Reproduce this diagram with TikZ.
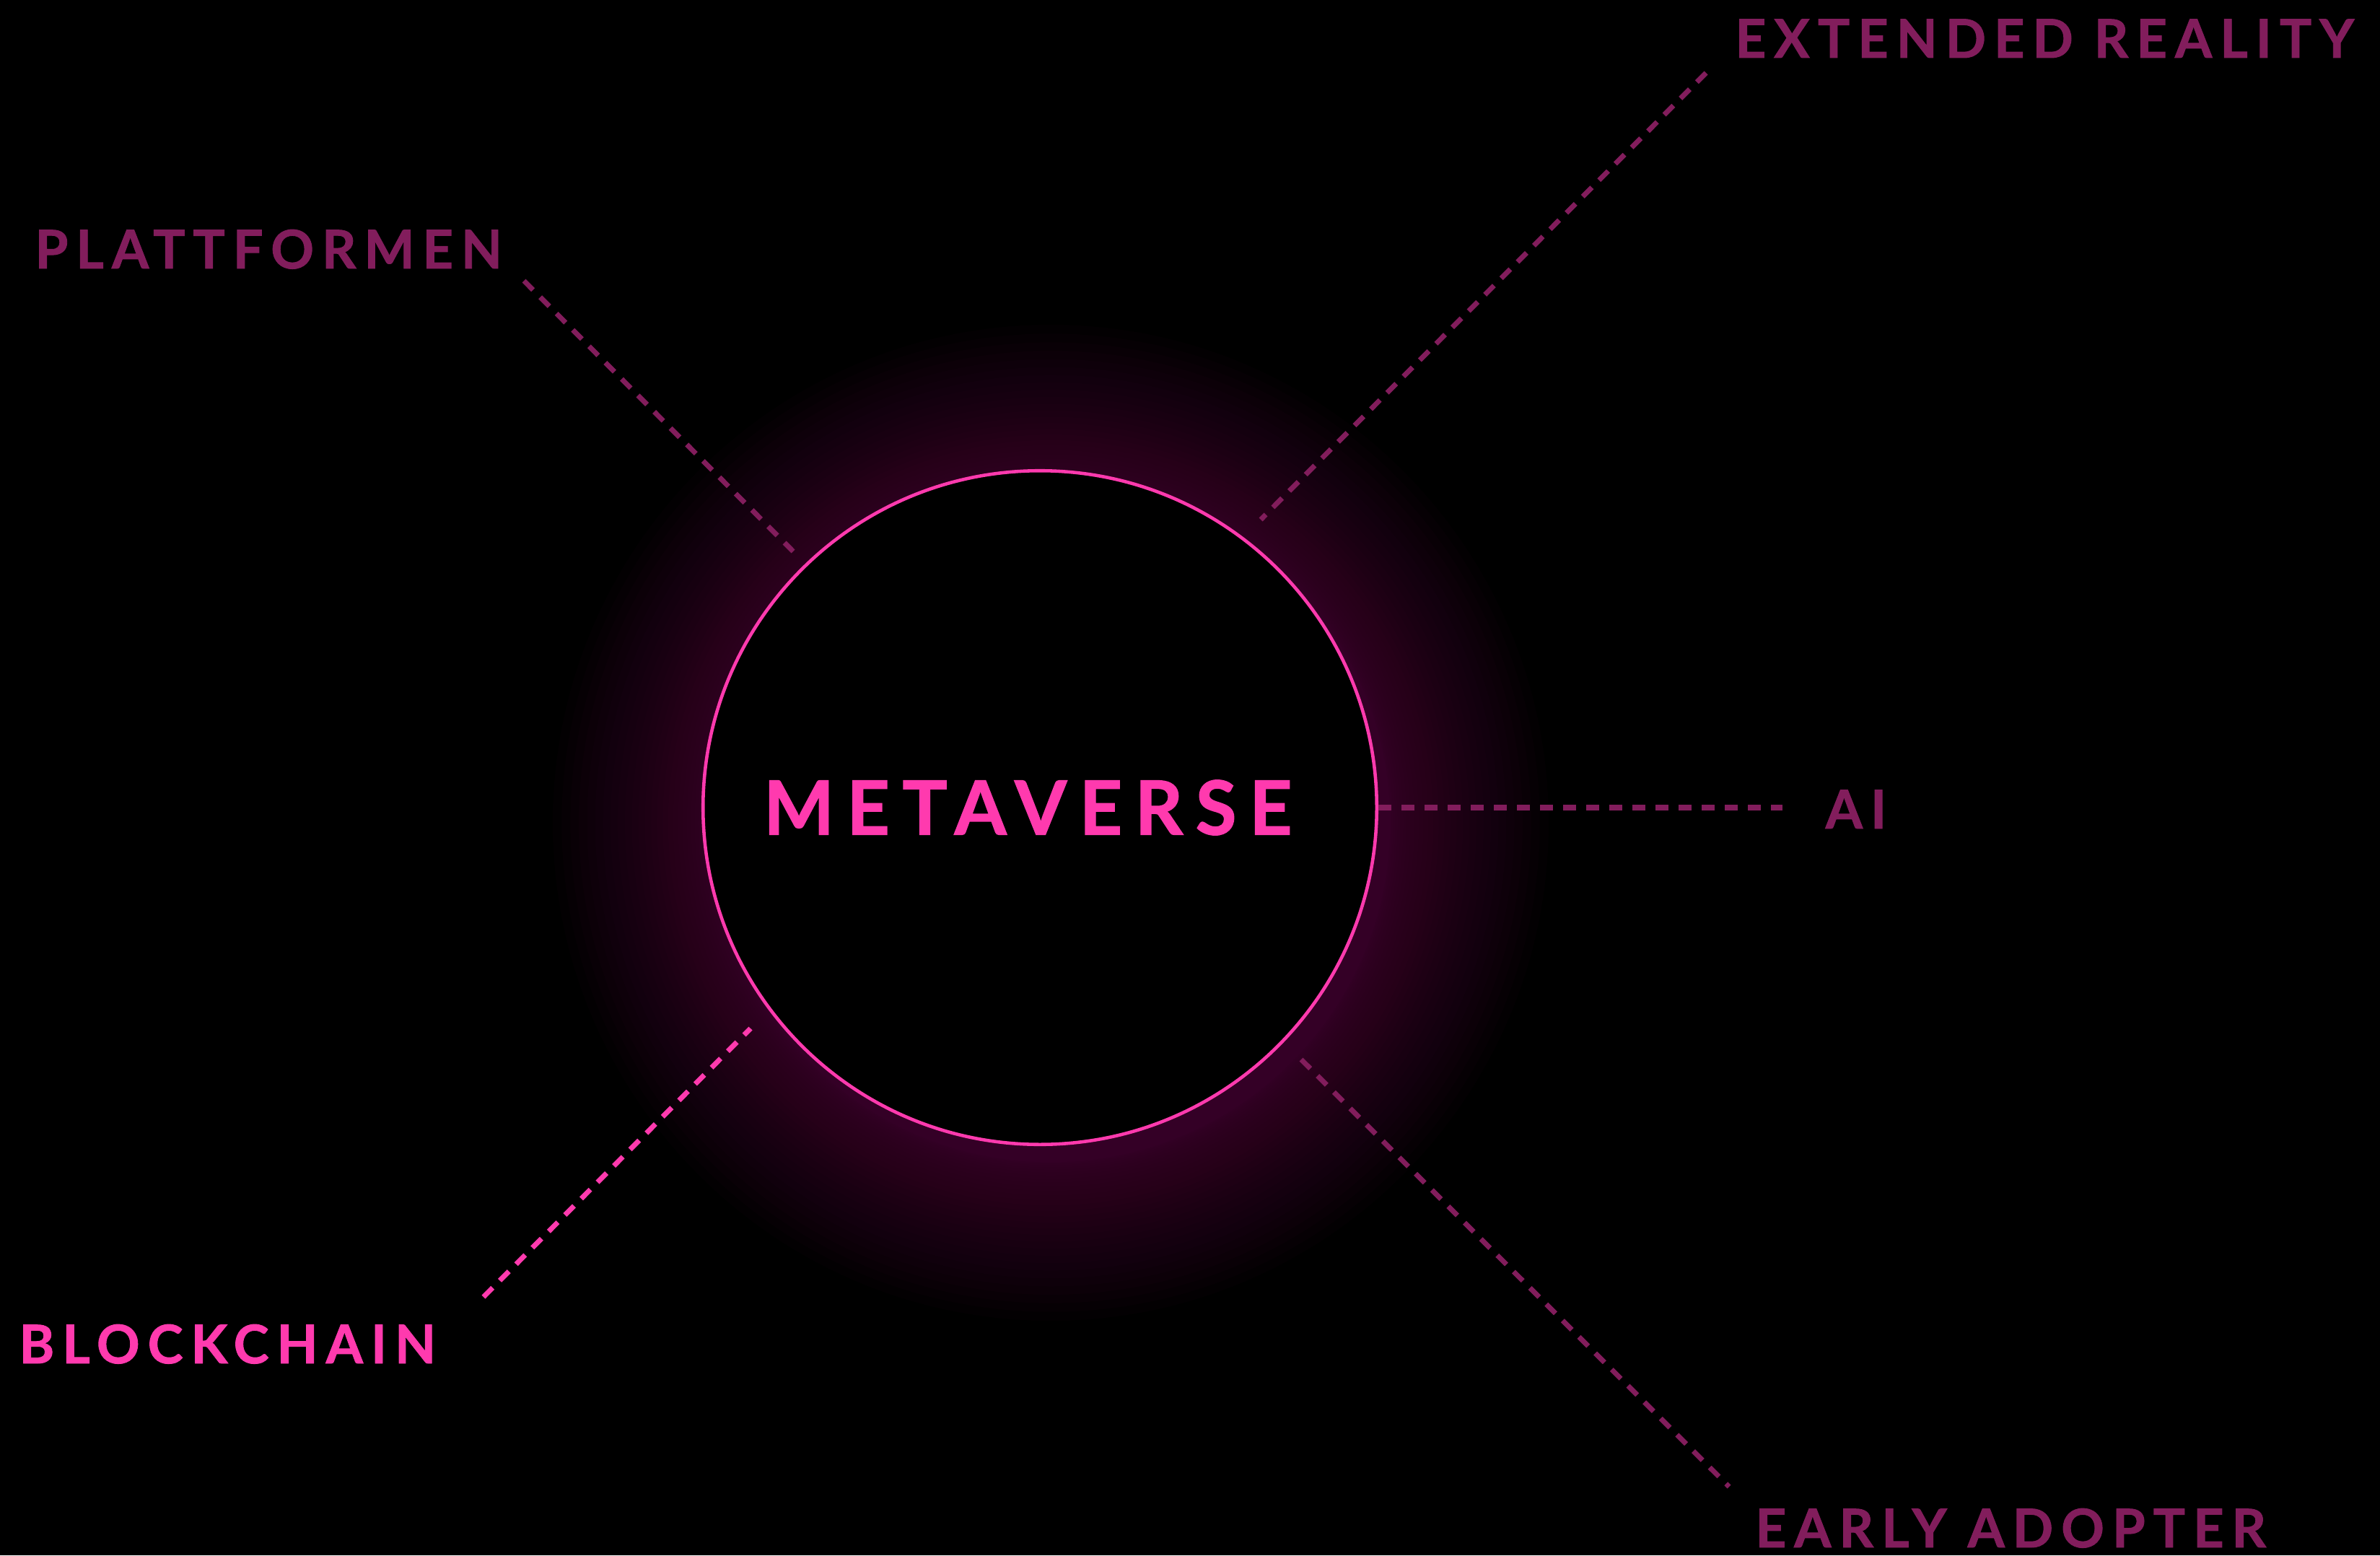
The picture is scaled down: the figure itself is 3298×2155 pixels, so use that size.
\documentclass[tikz,border=0pt]{standalone}
\usepackage{fontspec}
\newfontfamily\lbl{Lato}[LetterSpace=15, FakeBold=1.2]
\newfontfamily\hublbl{Lato}[LetterSpace=17, FakeBold=1.4]
\definecolor{pinkc}{HTML}{FF3AAE}
\definecolor{dimc}{HTML}{821D5C}
\definecolor{glowc}{HTML}{5E1646}
\begin{document}
\begin{tikzpicture}[x=0.01cm,y=-0.01cm,
  lab/.style={inner sep=0pt, font=\lbl\bfseries\fontsize{21}{22}\selectfont},
  dimlab/.style={lab, text=dimc},
  pinklab/.style={lab, text=pinkc},
  dimdash/.style={draw=dimc, line width=2pt, dash pattern=on 5.1pt off 4pt},
  pinkdash/.style={draw=pinkc, line width=2pt, dash pattern=on 5.1pt off 4pt},
  glowring/.style={fill=glowc, fill opacity=0.034},
  hub/.style={circle, draw=pinkc, line width=1.3pt, fill=black, minimum size=9.33cm, inner sep=0pt, text=pinkc, font=\hublbl\bfseries\fontsize{29.4}{30}\selectfont}]
\fill[black] (0,0) rectangle (3298,2155);
\useasboundingbox (0,0) rectangle (3298,2155);
% glow
\coordinate (g) at (1456,1140);
\foreach \i in {0,...,30}{
  \pgfmathsetmacro\rr{470+220*(\i/30)^1.7}
  \fill[glowring] (g) circle (\rr);
}
% hub
\node[hub] (m) at (1441,1119) {\hspace*{-9.5pt}METAVERSE};
% labels
\node[dimlab, anchor=base west] (plat) at (48,372) {PLATTFORMEN};
\node[dimlab, anchor=base west] (xr) at (2404,80) {EXTENDED REALITY};
\node[dimlab, anchor=base west] (ai) at (2529,1148) {AI};
\node[pinklab, anchor=base west] (bc) at (26,1889) {BLOCKCHAIN};
\node[dimlab, anchor=base west] (ea) at (2432,2144) {EARLY ADOPTER};
% connector ends
\coordinate (p1) at (726,389);  \coordinate (p2) at (1099,764);
\coordinate (x1) at (2364,101); \coordinate (x2) at (1747,720);
\coordinate (a2) at (2470,1119);
\coordinate (b1) at (670,1797); \coordinate (b2) at (1040,1425);
\coordinate (e1) at (1803,1468); \coordinate (e2) at (2396,2060);
\draw[dimdash] (p1) -- (p2);
\draw[dimdash] (x1) -- (x2);
\draw[dimdash] (m.east) -- (a2);
\draw[pinkdash] (b1) -- (b2);
\draw[dimdash] (e1) -- (e2);
\end{tikzpicture}
\end{document}
